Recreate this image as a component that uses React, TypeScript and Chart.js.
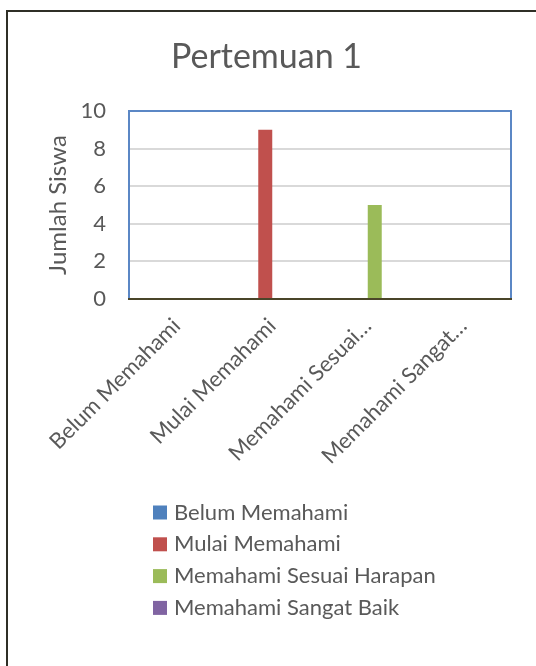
import React, { useEffect, useRef } from "react";
import { Chart, registerables } from "chart.js";

Chart.register(...registerables);

const chartTitle = "Pertemuan 1";
const yAxisTitle = "Jumlah Siswa";
const categories = ["Belum Memahami", "Mulai Memahami", "Memahami Sesuai Harapan", "Memahami Sangat Baik"];
const tickLabels = ["Belum Memahami", "Mulai Memahami", "Memahami Sesuai…", "Memahami Sangat…"];
const seriesNames = ["Belum Memahami", "Mulai Memahami", "Memahami Sesuai Harapan", "Memahami Sangat Baik"];
const belumValues = [0, 0, 0, 0];
const mulaiValues = [0, 9, 0, 0];
const sesuaiValues = [0, 0, 5, 0];
const sangatValues = [0, 0, 0, 0];
const yMin = 0;
const yMax = 10;
const yStep = 2;
const seriesColors = ["#4F81BD", "#C0504D", "#9BBB59", "#8064A2"];

const FONT = "Lato, 'Open Sans', sans-serif";
const TEXT = "#595959";

const decorPlugin = {
  id: "decor",
  beforeDraw(chart: any) {
    const ctx = chart.ctx;
    ctx.save();
    ctx.fillStyle = "#ffffff";
    ctx.fillRect(0, 0, chart.width, chart.height);
    ctx.restore();
  },
  afterDraw(chart: any) {
    const { ctx, chartArea } = chart;
    ctx.save();
    // outer frame
    ctx.strokeStyle = "#2f2f26";
    ctx.lineWidth = 2;
    ctx.strokeRect(7, 11, 900, 900);
    // plot area border (top, left, right)
    ctx.strokeStyle = "#5B87C5";
    ctx.lineWidth = 2;
    ctx.beginPath();
    ctx.moveTo(chartArea.left, chartArea.bottom - 1);
    ctx.lineTo(chartArea.left, chartArea.top);
    ctx.lineTo(chartArea.right, chartArea.top);
    ctx.lineTo(chartArea.right, chartArea.bottom - 1);
    ctx.stroke();
    // title
    ctx.fillStyle = TEXT;
    ctx.font = `34px ${FONT}`;
    ctx.textAlign = "center";
    ctx.textBaseline = "alphabetic";
    ctx.fillText(chartTitle, 266.5, 68);
    // legend
    ctx.font = `22px ${FONT}`;
    ctx.textAlign = "left";
    const ds = chart.data.datasets;
    for (let i = 0; i < ds.length; i++) {
      const cy = 512.5 + i * 31.8;
      ctx.fillStyle = ds[i].backgroundColor;
      ctx.fillRect(153, cy - 7, 14, 14);
      ctx.fillStyle = TEXT;
      ctx.fillText(ds[i].label, 174, cy + 7);
    }
    ctx.restore();
  },
};

export default function App() {
  const ref = useRef<HTMLCanvasElement>(null);
  useEffect(() => {
    document.body.style.margin = "0";
    const canvas = ref.current;
    if (!canvas) return;
    const allValues = [belumValues, mulaiValues, sesuaiValues, sangatValues];
    const chart = new Chart(canvas, {
      type: "bar",
      data: {
        labels: categories,
        datasets: seriesNames.map((name, i) => ({
          label: name,
          data: allValues[i],
          backgroundColor: seriesColors[i],
          borderWidth: 0,
          categoryPercentage: 0.586,
          barPercentage: 1,
        })),
      },
      options: {
        responsive: false,
        animation: false,
        layout: { padding: { left: 0, right: 25, top: 111, bottom: 197 } },
        plugins: {
          legend: { display: false },
          title: { display: false },
          tooltip: { enabled: false },
        },
        scales: {
          x: {
            grid: { display: false, drawTicks: false },
            border: { display: true, color: "#4a4529", width: 2 },
            ticks: {
              autoSkip: false,
              maxRotation: 45,
              minRotation: 45,
              padding: 14,
              color: TEXT,
              font: { family: FONT, size: 22 },
              callback: (_v: any, i: number) => tickLabels[i],
            },
            afterFit: (s: any) => {
              s.height = 170;
            },
          },
          y: {
            min: yMin,
            max: yMax,
            grid: { color: "#d9d9d9", lineWidth: 2, drawTicks: false },
            border: { display: false },
            ticks: {
              stepSize: yStep,
              padding: 23,
              color: TEXT,
              font: { family: FONT, size: 22 },
            },
            title: {
              display: true,
              text: yAxisTitle,
              color: TEXT,
              font: { family: FONT, size: 24 },
              padding: { top: 44, bottom: 0 },
            },
            afterFit: (s: any) => {
              s.width = 129;
            },
          },
        },
      },
      plugins: [decorPlugin],
    });
    return () => chart.destroy();
  }, []);
  return (
    <div style={{ position: "absolute", left: 0, top: 0, width: 536, height: 666 }}>
      <canvas ref={ref} width={536} height={666} />
    </div>
  );
}
